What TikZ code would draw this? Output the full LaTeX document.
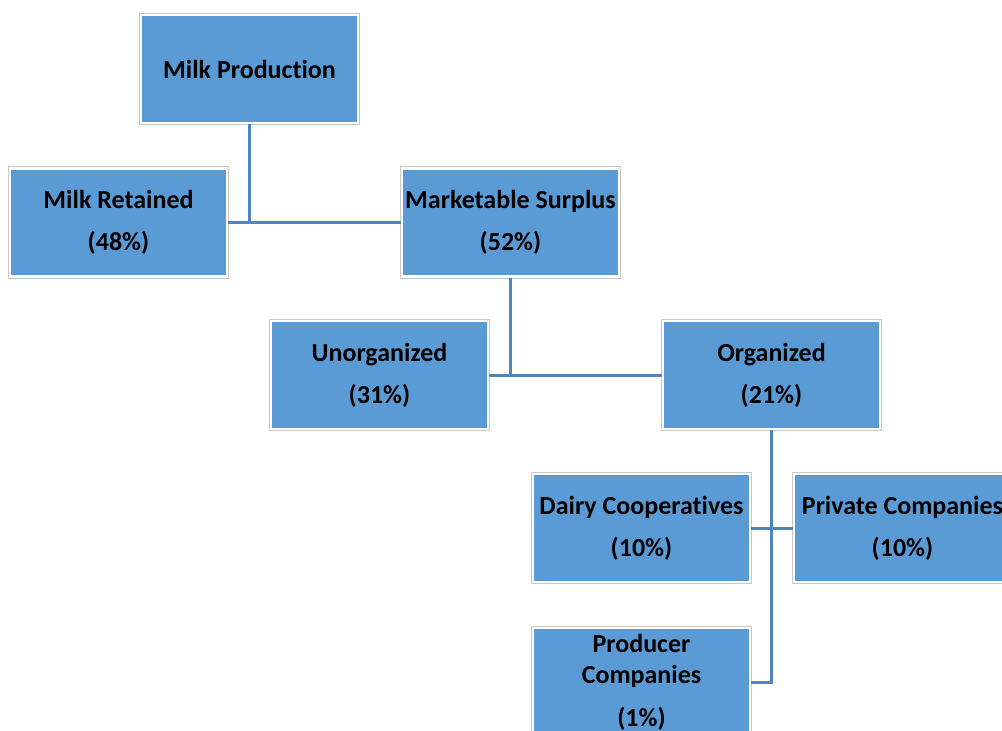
\documentclass[tikz,border=0pt]{standalone}
\usepackage{fontspec}
\setmainfont[Ligatures=NoCommon]{Carlito}
\definecolor{boxblue}{HTML}{5B9BD5}
\definecolor{linkblue}{HTML}{5084BE}

\begin{document}
\begin{tikzpicture}[x=0.02cm, y=-0.02cm,
    orgbox/.style={fill=boxblue, draw=white, line width=1.2pt,
      preaction={draw=black!22, line width=2.4pt}, inner xsep=0pt,
      minimum width=4.34cm, minimum height=2.16cm, align=center,
      font=\bfseries\fontsize{14.8}{24}\selectfont},
    link/.style={draw=linkblue, line width=1.7pt}]
  % The page is the size of the chart, in pixels, y running down
  \useasboundingbox (0, 0) rectangle (1002, 731);

  % Top of the chart: total production and its first split
  \node[orgbox] (mp) at (249.5, 69) {Milk Production};
  \node[orgbox] (retained) at (118.5, 222.5) {Milk Retained\\(48\%)};
  \node[orgbox] (surplus) at (510.5, 222.5) {Marketable Surplus\\(52\%)};

  % The marketable surplus splits again
  \node[orgbox] (unorg) at (379.5, 375) {Unorganized\\(31\%)};
  \node[orgbox] (org) at (771.5, 375) {Organized\\(21\%)};

  % The organized sector, the right box runs off the page
  \node[orgbox] (coop) at (641.5, 528) {Dairy Cooperatives\\(10\%)};
  \node[orgbox] (private) at (902.5, 528) {Private Companies\\(10\%)};
  \node[orgbox] (producer) at (641.5, 682) {Producer\\[-6pt]Companies\\(1\%)};

  % Connectors: a trunk down from each parent and a bar across its children
  \draw[link] (mp.south) -- (mp.south |- retained.east);
  \draw[link] (retained.east) -- (surplus.west);
  \draw[link] (surplus.south) -- (surplus.south |- unorg.east);
  \draw[link] (unorg.east) -- (org.west);
  \draw[link] (org.south) -- (org.south |- producer.east) -- (producer.east);
  \draw[link] (coop.east) -- (private.west);
\end{tikzpicture}
\end{document}
